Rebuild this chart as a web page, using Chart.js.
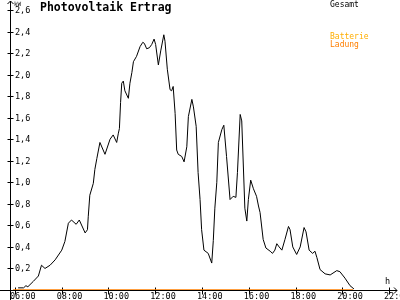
<!DOCTYPE html>
<html>
<head>
<meta charset="utf-8">
<script src="https://cdn.jsdelivr.net/npm/chart.js@4/dist/chart.umd.min.js"></script>
<style>
  html, body { margin: 0; padding: 0; background: #fff; }
  #wrap { width: 400px; height: 300px; }
</style>
</head>
<body>
<div id="wrap"><canvas id="myChart" width="400" height="300"></canvas></div>
<script>
// values (kW over time of day)
const times = ["06:08","06:22","06:28","06:33","06:47","07:00","07:08","07:17","07:30","07:43",
  "08:00","08:08","08:17","08:25","08:37","08:45","09:00","09:06","09:08","09:12",
  "09:21","09:25","09:30","09:38","09:51","10:04","10:12","10:21","10:25","10:28",
  "10:31","10:34","10:38","10:42","10:51","10:55","11:00","11:04","11:12","11:21",
  "11:28","11:32","11:38","11:45","11:51","11:57","12:01","12:08","12:14","12:22",
  "12:25","12:31","12:38","12:42","12:46","12:51","12:55","12:59","13:08","13:14",
  "13:21","13:25","13:34","13:38","13:45","13:50","13:55","13:59","14:05","14:16",
  "14:25","14:29","14:33","14:38","14:42","14:51","14:56","15:03","15:12","15:20",
  "15:27","15:31","15:38","15:42","15:50","15:55","15:59","16:05","16:12","16:20",
  "16:25","16:29","16:37","16:44","16:55","17:01","17:07","17:12","17:18","17:25",
  "17:33","17:42","17:46","17:53","18:03","18:12","18:22","18:27","18:35","18:44",
  "18:50","18:55","19:03","19:16","19:29","19:46","19:54","20:07","20:20","20:30"]
const gesamt = [0.02,0.02,0.04,0.03,0.08,0.13,0.23,0.20,0.23,0.28,
  0.37,0.45,0.62,0.65,0.61,0.65,0.53,0.56,0.68,0.88,
  0.99,1.12,1.22,1.37,1.26,1.40,1.44,1.37,1.45,1.50,
  1.74,1.92,1.94,1.85,1.78,1.92,2.02,2.12,2.17,2.26,
  2.30,2.29,2.24,2.25,2.28,2.33,2.28,2.09,2.22,2.37,
  2.31,2.05,1.86,1.85,1.89,1.64,1.30,1.26,1.24,1.19,
  1.33,1.61,1.77,1.70,1.52,1.09,0.84,0.56,0.37,0.34,
  0.25,0.46,0.76,1.00,1.37,1.49,1.53,1.24,0.84,0.87,
  0.86,1.09,1.63,1.57,0.76,0.64,0.84,1.02,0.94,0.87,
  0.78,0.72,0.47,0.39,0.36,0.34,0.37,0.43,0.40,0.37,
  0.47,0.59,0.56,0.40,0.33,0.40,0.58,0.54,0.37,0.34,
  0.36,0.30,0.19,0.15,0.14,0.18,0.17,0.11,0.04,0.01]
const ladungTimes = ["05:55","20:28"]
const ladung = [0, 0]

const yTicks = [0.2,0.4,0.6,0.8,1.0,1.2,1.4,1.6,1.8,2.0,2.2,2.4,2.6]
const yTickLabels = ["0,2","0,4","0,6","0,8","1,0","1,2","1,4","1,6","1,8","2,0","2,2","2,4","2,6"]
const xTicks = ["06:00","08:00","10:00","12:00","14:00","16:00","18:00","20:00","22:00"]

const legendItems = [
  { text: "Gesamt", color: "#000000", y: 7 },
  { text: "Batterie", color: "#ffae00", y: 39 },
  { text: "Ladung", color: "#ff7f00", y: 47 }
]

function toHours(t) {
  let [h, m] = t.split(":").map(Number)
  return h + m / 60
}

const axisPlugin = {
  id: "axes",
  beforeDatasetsDraw(chart) {
    const ctx = chart.ctx
    const xs = chart.scales.x, ys = chart.scales.y
    const ax = 10.5, ay = ys.getPixelForValue(0) + 0.5
    ctx.save()
    ctx.strokeStyle = "#000"
    ctx.lineWidth = 1
    ctx.beginPath()
    // y axis with arrow
    ctx.moveTo(ax, 300); ctx.lineTo(ax, 1)
    ctx.moveTo(ax - 3, 4); ctx.lineTo(ax, 1); ctx.lineTo(ax + 3, 4)
    // x axis with arrow
    ctx.moveTo(0, ay); ctx.lineTo(397, ay)
    ctx.moveTo(394, ay - 3); ctx.lineTo(397, ay); ctx.lineTo(394, ay + 3)
    // y ticks
    yTicks.forEach(v => {
      const py = Math.round(ys.getPixelForValue(v)) + 0.5
      ctx.moveTo(ax - 3, py); ctx.lineTo(ax + 3, py)
    })
    // x ticks
    xTicks.forEach(t => {
      const px = Math.round(xs.getPixelForValue(toHours(t))) + 0.5
      ctx.moveTo(px, ay - 3); ctx.lineTo(px, ay + 4)
    })
    ctx.stroke()

    ctx.fillStyle = "#000"
    ctx.font = "8.5px 'DejaVu Sans Mono'"
    ctx.textBaseline = "alphabetic"
    ctx.textAlign = "left"
    yTicks.forEach((v, i) => {
      const py = ys.getPixelForValue(v)
      ctx.fillText(yTickLabels[i], 15, py + 3)
    })
    xTicks.forEach(t => {
      const px = xs.getPixelForValue(toHours(t))
      ctx.fillText(t, px - 5, 299)
    })
    ctx.font = "6px 'DejaVu Sans Mono'"
    ctx.fillText("kW", 14, 6)
    ctx.font = "8.5px 'DejaVu Sans Mono'"
    ctx.fillText("h", 385, 284)
    ctx.restore()
  },
  afterDraw(chart) {
    const ctx = chart.ctx
    ctx.save()
    ctx.textAlign = "left"
    ctx.textBaseline = "alphabetic"
    ctx.fillStyle = "#000"
    ctx.font = "bold 11.5px 'DejaVu Sans Mono'"
    ctx.fillText("Photovoltaik Ertrag", 40, 11)
    ctx.font = "8px 'DejaVu Sans Mono'"
    legendItems.forEach(item => {
      ctx.fillStyle = item.color
      ctx.fillText(item.text, 330, item.y)
    })
    ctx.restore()
  }
}

let myChart = new Chart(document.getElementById("myChart"), {
  type: "line",
  data: {
    datasets: [
      {
        label: "Gesamt",
        data: times.map((t, i) => ({ x: toHours(t), y: gesamt[i] })),
        borderColor: "#000000",
        borderWidth: 1,
        pointRadius: 0,
        tension: 0,
        fill: false
      },
      {
        label: "Ladung",
        data: ladungTimes.map((t, i) => ({ x: toHours(t), y: ladung[i] })),
        borderColor: "#ff7f00",
        borderWidth: 1.5,
        pointRadius: 0,
        tension: 0,
        fill: false
      }
    ]
  },
  options: {
    responsive: false,
    animation: false,
    devicePixelRatio: 1,
    layout: { padding: { left: 11, right: 3, top: 10, bottom: 10 } },
    plugins: { legend: { display: false }, tooltip: { enabled: false } },
    scales: {
      x: { type: "linear", min: 6 - 4 / 23.375, max: 22 + 8 / 23.375, display: false },
      y: { min: 0, max: 2.6, display: false }
    }
  },
  plugins: [axisPlugin]
})
</script>
</body>
</html>
